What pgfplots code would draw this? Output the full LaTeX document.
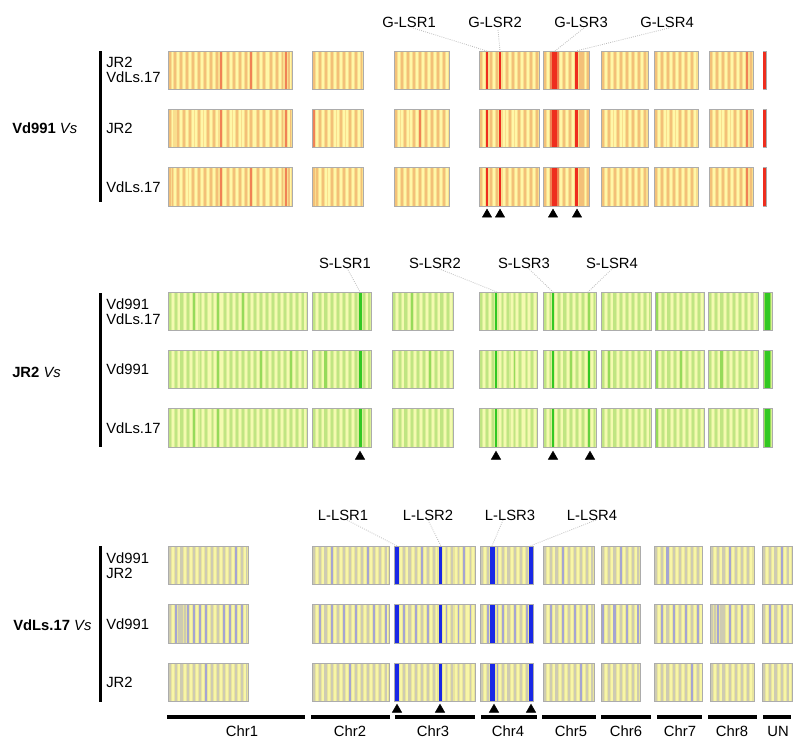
\documentclass[border=0pt]{standalone}
\usepackage{fontspec}
\setmainfont{Liberation Sans}
\usepackage{pgfplots}
\pgfplotsset{compat=1.18}
\usepackage{pgfplotstable}

\definecolor{bord}{RGB}{172,172,172}
\definecolor{baseA}{RGB}{249,222,142}
\definecolor{baseB}{RGB}{218,239,152}
\definecolor{baseC}{RGB}{232,228,158}

% a full-height stripe whose half width is the mark size
\pgfdeclareplotmark{stripe}{%
  \pgfpathrectangle{\pgfqpoint{-\pgfplotmarksize}{-14.06pt}}{\pgfqpoint{2\pgfplotmarksize}{28.12pt}}%
  \pgfusepathqfill}

\pgfplotsset{
  colormap={cmA}{rgb255=(255,247,168) rgb255=(249,222,142) rgb255=(243,192,120) rgb255=(240,130,85) rgb255=(238,45,30)},
  colormap={cmB}{rgb255=(244,250,176) rgb255=(218,239,152) rgb255=(192,229,130) rgb255=(150,218,90) rgb255=(50,200,35)},
  colormap={cmC}{rgb255=(248,246,166) rgb255=(232,228,158) rgb255=(206,203,178) rgb255=(165,165,210) rgb255=(25,40,230)},
  stripe/.style={scatter, only marks, mark=stripe, scatter src=explicit,
    scatter/use mapped color={draw=none, fill=mapped color},
    visualization depends on={0.375*\thisrow{w} \as \hw},
    scatter/@pre marker code/.append style={/tikz/mark size=\hw pt}},
  block/.style={draw=bord, line width=0.75pt, line join=miter},
}

% block outlines: x, t (0 = top edge, 1 = bottom edge)
\pgfplotstableread{
x t
168 0
292 0
292 1
168 1
168 0
nan 0
312 0
363 0
363 1
312 1
312 0
nan 0
394 0
449 0
449 1
394 1
394 0
nan 0
479 0
539 0
539 1
479 1
479 0
nan 0
543 0
589 0
589 1
543 1
543 0
nan 0
601 0
648 0
648 1
601 1
601 0
nan 0
654 0
698 0
698 1
654 1
654 0
nan 0
709 0
753 0
753 1
709 1
709 0
nan 0
763 0
766 0
766 1
763 1
763 0
}\blkA

\pgfplotstableread{
x t
168 0
307 0
307 1
168 1
168 0
nan 0
312 0
371 0
371 1
312 1
312 0
nan 0
392 0
453 0
453 1
392 1
392 0
nan 0
479 0
537 0
537 1
479 1
479 0
nan 0
543 0
596 0
596 1
543 1
543 0
nan 0
601 0
651 0
651 1
601 1
601 0
nan 0
655 0
704 0
704 1
655 1
655 0
nan 0
708 0
758 0
758 1
708 1
708 0
nan 0
763 0
772 0
772 1
763 1
763 0
}\blkB

\pgfplotstableread{
x t
168 0
248 0
248 1
168 1
168 0
nan 0
312 0
389 0
389 1
312 1
312 0
nan 0
394 0
475 0
475 1
394 1
394 0
nan 0
480 0
533 0
533 1
480 1
480 0
nan 0
543 0
594 0
594 1
543 1
543 0
nan 0
601 0
640 0
640 1
601 1
601 0
nan 0
654 0
702 0
702 1
654 1
654 0
nan 0
710 0
754 0
754 1
710 1
710 0
nan 0
762 0
792 0
792 1
762 1
762 0
}\blkC

% stripes: position, width (px), level in rows a, b, c (0 pale, 1 base, 2 dark, 3 strong, 4 LSR)
\pgfplotstableread{
x w a b c
170 2 2 2 2
172.5 1.5 0 0 2
175 2 2 1 0
178 2.5 0 2 2
181 1.5 2 0 0
183.5 2 0 2 2
186.5 2 2 0 0
190 2.5 0 2 0
193 1.5 2 0 2
195.5 2 0 0 0
198.5 2 2 2 2
202 2 0 0 0
205 1.5 2 0 2
207.5 2 0 2 0
211 2.5 2 0 2
214 1.5 0 2 0
217 2 2 0 2
221 2 3 3 3
224.5 2.5 0 0 0
228 1.5 2 2 2
230.5 2 0 0 0
233.5 2 2 0 2
237 2.5 0 2 0
240 1.5 2 0 2
243 2 0 0 0
246 2 2 2 2
248.5 1.5 0 0 0
251 2 3 2 3
254.5 2.5 0 0 0
258 2 2 2 2
261 1.5 0 0 0
264 2 2 2 2
267.5 2.5 0 0 0
271 2 2 2 2
274 1.5 0 0 0
277 2 2 2 2
280 2.5 0 0 0
282.5 1.5 2 2 2
285.5 2 3 3 3
288.5 2 2 0 2
290.5 1.5 0 2 0
314 2 2 3 2
317 2 0 0 2
320 2 2 2 0
323 1.5 0 0 2
326 2 2 2 0
329 2.5 0 0 0
332 2 2 2 2
335 1.5 0 0 0
338 2 2 0 2
341 2 0 2 0
344 2.5 2 0 2
347 2 0 0 0
350 1.5 2 2 2
353 2 0 0 0
356 2 2 2 2
359 2.5 0 0 0
361.5 1.5 2 2 2
396 2 2 2 2
399 2 0 0 0
402 1.5 2 0 2
405 2 0 2 0
408 2.5 2 0 2
411 2 0 0 0
414 1.5 2 2 2
417 2 0 0 0
420 2 2 3 2
423 2.5 0 0 0
426 1.5 2 2 2
429 2 0 0 0
432 2 2 2 2
435 2.5 0 0 0
438 1.5 2 2 2
441 2 0 0 0
444 2 2 2 2
447 1.5 0 0 0
481 2 2 2 2
484 2 0 0 0
487 2.5 4 4 4
490.5 2 2 2 2
494 2 0 0 0
497 1.5 2 2 2
500 2.5 4 4 4
503.5 2 0 0 0
507 2.5 2 0 2
510 1.5 0 2 0
513 2 2 0 2
516 2 0 0 0
519 2.5 2 2 2
522 1.5 0 0 0
525 2 2 2 2
528 2 0 0 0
531 2.5 2 2 2
534 1.5 0 0 0
537 2 2 2 2
545 2 2 2 2
548 2 0 0 0
551 1.5 3 3 3
554.5 5 4 4 4
558 1.5 3 3 3
561 2 0 0 0
564 2.5 2 2 2
567 1.5 0 0 0
570 2 2 2 2
573 2 0 0 0
576 3 4 4 4
579.5 2 2 2 2
582.5 2.5 2 2 2
585.5 1.5 0 0 0
587.5 2 2 2 2
603 2 2 2 2
606 2 0 0 0
609 2.5 2 2 2
612 1.5 0 0 0
615 2 2 0 2
618 2 0 2 0
621 2.5 2 0 2
624 1.5 0 0 0
627 2 2 2 2
630 2 0 0 0
633 2.5 2 2 2
636 1.5 0 0 0
639 2 2 2 2
642 2 0 0 0
645 2.5 2 2 2
656 2 2 2 2
659 2 0 0 0
662 2.5 2 2 2
665 1.5 0 0 0
668 2 2 0 2
671 2 0 2 0
674 2.5 2 0 2
677 1.5 0 0 0
680 2 2 2 2
683 2 0 0 0
686 2.5 2 2 2
689 1.5 0 0 0
692 2 2 2 2
695 2 0 0 0
711 2 2 2 2
714 2 0 0 0
717 2.5 2 2 2
720 1.5 0 0 0
723 2 2 0 2
726 2 0 2 0
729 2.5 2 0 2
732 1.5 0 0 0
735 2 2 2 2
738 2 0 0 0
741 2.5 2 2 2
744 1.5 0 0 0
747 2 3 3 3
750.5 2 2 2 2
764.5 3.5 4 4 4
}\stA

\pgfplotstableread{
x w a b c
170 2 2 2 2
173 2 0 0 0
176 1.5 2 2 2
178.5 2 0 0 0
181.5 2.5 2 2 2
185 2 0 0 0
188 1.5 2 2 2
191 2 0 0 0
194 2 3 2 3
197 2.5 0 0 0
200.5 1.5 2 2 2
203 2 0 0 0
206 2 2 2 2
209.5 2.5 0 0 0
212.5 1.5 2 2 2
215 2 0 0 0
218 2 3 3 3
221.5 2.5 0 0 0
225 1.5 2 2 2
227.5 2 0 0 0
230.5 2 2 2 2
234 2.5 0 0 0
237 1.5 2 2 2
239.5 2 0 0 0
242.5 2 3 2 2
246 2.5 0 0 0
249 1.5 2 2 2
251.5 2 0 0 0
254.5 2 2 2 2
258 2.5 0 0 0
261 1.5 2 3 2
263.5 2 0 0 0
266.5 2 2 2 2
270 2.5 0 0 0
273 1.5 2 2 2
275.5 2 0 0 0
278.5 2 2 2 2
282 2.5 0 0 0
285 1.5 2 2 2
287.5 2 0 0 0
290.5 2 2 3 2
294 2.5 0 0 0
297 1.5 2 2 2
299.5 2 0 0 0
302.5 2 2 2 2
305 1.5 0 0 0
314 2 2 2 2
317 2 0 0 0
320 1.5 2 2 2
322.5 2 0 0 0
325.5 2.5 2 3 2
329 2 0 0 0
332 1.5 2 2 2
334.5 2 0 0 0
337.5 2 2 2 2
341 2.5 0 0 0
344 1.5 2 2 2
346.5 2 0 0 0
349.5 2 2 2 2
353 2 0 0 0
356 1.5 2 2 2
360 3 4 4 4
363.5 2 2 2 2
366.5 2 0 0 0
369 1.5 2 2 2
394 2 2 2 2
397 2 0 0 0
400 1.5 2 2 2
402.5 2 0 0 0
405.5 2.5 2 2 2
409 2 0 0 0
412 1.5 3 2 2
414.5 2 0 0 0
417.5 2 2 2 2
421 2.5 0 0 0
424 1.5 2 2 2
426.5 2 0 0 0
429.5 2 2 3 2
433 2 0 0 0
436 1.5 2 2 2
438.5 2 0 0 0
441.5 2.5 2 2 2
445 2 0 0 0
448 1.5 2 2 2
451 2 0 0 0
481 2 2 2 2
484 2 0 0 0
487 1.5 2 2 2
489.5 2 0 0 0
492.5 2 2 2 2
496 2.5 4 4 4
499.5 2 0 0 0
502.5 1.5 2 2 2
505 2 0 0 0
508 2.5 2 2 2
511.5 2 0 0 0
514.5 1.5 2 3 2
517 2 0 0 0
520 2 2 2 2
523.5 2.5 0 0 0
526.5 1.5 2 2 2
529 2 0 0 0
532 2 2 2 2
535 2 0 0 0
545 2 2 2 2
548 2 0 0 0
550.5 1.5 2 2 2
553 2.5 4 4 4
556 2 0 0 0
559 1.5 2 2 2
561.5 2 0 0 0
564.5 2.5 2 2 2
568 2 0 0 0
571 1.5 2 3 2
573.5 2 0 0 0
576.5 2 2 2 2
580 2.5 0 0 0
583 1.5 2 2 2
585.5 2 0 0 0
589 2 3 4 3.5
592 2 0 0 0
594.5 1.5 2 2 2
603 2 2 2 2
606 2 0 0 0
609 1.5 2 3 2
611.5 2 0 0 0
614.5 2.5 2 2 2
618 2 0 0 0
621 1.5 2 2 2
623.5 2 0 0 0
626.5 2 2 2 2
630 2.5 0 0 0
633 1.5 2 2 2
635.5 2 0 0 0
638.5 2 2 2 2
642 2 0 0 0
645 1.5 2 2 2
647.5 2 0 0 0
649.5 1.5 2 2 2
657 2 3 3 3
660 2 0 0 0
663 1.5 2 2 2
665.5 2 0 0 0
668.5 2.5 2 2 2
672 2 0 0 0
675 1.5 2 2 2
677.5 2 0 0 0
680.5 2 2 3 2
684 2.5 0 0 0
687 1.5 2 2 2
689.5 2 0 0 0
692.5 2 2 2 2
696 2 0 0 0
699 1.5 2 2 2
702 2 0 0 0
710 2 2 2 2
713 2 0 0 0
716 1.5 2 2 2
718.5 2 0 0 0
721.5 2.5 2 3 2
725 2 0 0 0
728 1.5 2 2 2
730.5 2 0 0 0
733.5 2 2 2 2
737 2.5 0 0 0
740 1.5 2 2 2
742.5 2 0 0 0
745.5 2 2 2 2
749 2 0 0 0
752 1.5 2 2 2
755 2 0 0 0
764.5 1.5 3 3 3
767.5 4.5 4 4 4
770.5 1.5 3 3 3
}\stB

\pgfplotstableread{
x w a b c
170 2 2 2 2
173 2 0 0 0
176 1.5 2 3 2
178.5 2 0 2 0
181.5 2.5 2 2 2
185 2 0 2 0
188 1.5 2 3 2
190.5 2 0 0 0
193.5 2 2 3 2
197 2.5 0 0 0
200 1.5 2 3 2
202.5 2 0 0 0
205.5 2 2 3 3
209 2.5 0 0 0
212 1.5 2 2 2
214.5 2 0 0 0
217.5 2 2 2 2
221 2.5 0 0 0
224 1.5 2 3 2
226.5 2 0 0 0
229.5 2 2 3 2
233 2.5 0 0 0
236 1.5 3 3 2
238.5 2 0 0 0
241.5 2 2 3 2
244.5 2 0 0 0
246.5 1.5 2 2 2
314 2 2 2 2
317 2 0 0 0
320 1.5 2 3 2
322.5 2 0 0 0
325.5 2.5 2 2 2
329 2 0 0 0
332 1.5 3 3 2
334.5 2 0 0 0
337.5 2 2 2 2
341 2.5 0 0 0
344 1.5 2 3 2
346.5 2 0 0 0
349.5 2 2 2 3
353 2.5 0 0 0
356 1.5 2 3 2
358.5 2 0 0 0
361.5 2 2 2 2
365 2.5 0 0 0
368 1.5 3 2 2
370.5 2 0 0 0
373.5 2 2 3 2
377 2.5 0 0 0
380 1.5 2 2 2
382.5 2 0 0 0
385.5 2 2 3 2
387.5 1.5 0 0 0
397 4 4 4 4
401 2 0 0 0
404 1.5 2 3 2
406.5 2 0 0 0
409.5 2.5 2 2 2
413 2 0 0 0
416 1.5 2 3 2
418.5 2 0 0 0
421.5 2 3 2 2
425 2.5 0 0 0
428 1.5 2 3 2
430.5 2 0 0 0
433.5 2 2 2 2
436.5 1.5 0 0 0
440 3 4 4 4
443.5 2 0 0 0
446.5 1.5 2 3 2
449 2 0 0 0
452 2.5 2 2 2
455.5 2 0 0 0
458.5 1.5 2 3 2
461 2 0 0 0
464 2 3 2 2
467.5 2.5 0 0 0
470.5 1.5 2 3 2
473 2 0 0 0
482 2 2 2 2
485 2 0 0 0
488 1.5 2 3 2
492.5 5.5 4 4 4
497.5 1.5 3 3 3
500 2 0 0 0
503 1.5 2 3 2
505.5 2 0 0 0
508.5 2.5 2 2 2
512 2 0 0 0
515 1.5 2 3 2
517.5 2 0 0 0
520.5 2 2 2 2
524 2.5 0 0 0
527 1.5 2 3 2
530.8 4 4 4 4
545 2 2 2 2
548 2 0 0 0
551 1.5 2 3 2
553.5 2 0 0 0
556.5 2.5 2 2 2
560 2 0 0 0
563 1.5 3 3 2
565.5 2 0 0 0
568.5 2 2 2 2
572 2.5 0 0 0
575 1.5 2 3 2
577.5 2 0 0 0
580.5 2 2 2 3
584 2.5 0 0 0
587 1.5 2 3 2
589.5 2 0 0 0
592 1.5 2 2 2
603 2 2 3 2
606 2 0 0 0
609 1.5 2 2 2
611.5 2 0 0 0
614.5 2.5 2 3 2
618 2 0 0 0
621 1.5 3 2 2
623.5 2 0 0 0
626.5 2 2 3 2
630 2.5 0 0 0
633 1.5 2 2 2
635.5 2 0 0 0
638 1.5 2 3 2
656 2 2 2 2
659 2 0 0 0
662 1.5 2 3 2
664.5 2 0 0 0
667.5 2.5 3 2 2
671 2 0 0 0
674 1.5 2 3 2
676.5 2 0 0 0
679.5 2 2 2 2
683 2.5 0 0 0
686 1.5 2 3 2
688.5 2 0 0 0
691.5 2 2 2 3
695 2.5 0 0 0
698 1.5 2 3 2
700.5 2 0 0 0
712 2 2 2 2
715 2 0 2 0
718 1.5 2 3 2
720.5 2 0 2 0
723.5 2.5 2 2 2
727 2 0 0 0
730 1.5 3 3 2
732.5 2 0 0 0
735.5 2 2 2 2
739 2.5 0 0 0
742 1.5 2 3 2
744.5 2 0 0 0
747.5 2 2 2 2
751 2 0 0 0
764 2 2 2 2
767 2 0 0 0
770 1.5 2 3 2
772.5 2 0 0 0
775.5 2.5 2 2 2
779 2 0 0 0
782 1.5 3 3 2
784.5 2 0 0 0
787.5 2 2 2 2
790 1.5 0 0 0
}\stC

\begin{document}
\begin{tikzpicture}[font=\fontsize{11.1}{11.3}\selectfont]
\begin{axis}[
  scale only axis, width=600pt, height=557.25pt,
  xmin=0, xmax=800, ymin=0, ymax=743, y dir=reverse,
  hide axis, clip=false,
  point meta min=0, point meta max=4,
  unbounded coords=jump,
]
% ---- Vd991 panel
\pgfplotsinvokeforeach{51,109,167.5}{
  \addplot[block, fill=baseA] table[x=x, y expr=#1+38.5*\thisrow{t}] \blkA;
}
\addplot[stripe, colormap name=cmA] table[x=x, y expr=70.25, meta=a] \stA;
\addplot[stripe, colormap name=cmA] table[x=x, y expr=128.25, meta=b] \stA;
\addplot[stripe, colormap name=cmA] table[x=x, y expr=186.75, meta=c] \stA;
% ---- JR2 panel
\pgfplotsinvokeforeach{292,350,408.5}{
  \addplot[block, fill=baseB] table[x=x, y expr=#1+38.5*\thisrow{t}] \blkB;
}
\addplot[stripe, colormap name=cmB] table[x=x, y expr=311.25, meta=a] \stB;
\addplot[stripe, colormap name=cmB] table[x=x, y expr=369.25, meta=b] \stB;
\addplot[stripe, colormap name=cmB] table[x=x, y expr=427.75, meta=c] \stB;
% ---- VdLs.17 panel
\pgfplotsinvokeforeach{546,604.5,663}{
  \addplot[block, fill=baseC] table[x=x, y expr=#1+38.5*\thisrow{t}] \blkC;
}
\addplot[stripe, colormap name=cmC] table[x=x, y expr=565.25, meta=a] \stC;
\addplot[stripe, colormap name=cmC] table[x=x, y expr=623.75, meta=b] \stC;
\addplot[stripe, colormap name=cmC] table[x=x, y expr=682.25, meta=c] \stC;

% leader lines to the LSRs
\addplot[gray!55, densely dotted, line width=0.6pt] coordinates {
  (413,28) (487,51) (nan,nan) (498,30) (500,51) (nan,nan)
  (584,28) (555,51) (nan,nan) (669,28) (576,51) (nan,nan)
  (347,268) (360,292) (nan,nan) (437,268) (497,292) (nan,nan)
  (528,268) (553,292) (nan,nan) (613,268) (588,292) (nan,nan)
  (347,520) (397,546) (nan,nan) (428,520) (441,546) (nan,nan)
  (503,520) (492,546) (nan,nan) (596,520) (530,546)};
% LSR markers
\addplot[only marks, mark=triangle*, mark size=4pt, black] coordinates {
  (487,214.5) (500,214.5) (553,214.5) (577,214.5)
  (360,456.6) (496,456.6) (553,456.6) (590,456.6)
  (397,709.6) (440,709.6) (494,709.6) (531,709.6)};
% brackets at the left
\addplot[black, line width=2.25pt] coordinates {
  (100,51) (100,202) (nan,nan) (100,293) (100,447) (nan,nan) (100,546) (100,702)};
% chromosome bars
\addplot[black, line width=3pt] coordinates {
  (167,717) (305,717) (nan,nan) (311,717) (390,717) (nan,nan)
  (395,717) (475,717) (nan,nan) (481,717) (537,717) (nan,nan)
  (542,717) (596,717) (nan,nan) (601,717) (651,717) (nan,nan)
  (657,717) (702,717) (nan,nan) (708,717) (757,717) (nan,nan)
  (763,717) (791,717)};

% texts
\node[anchor=west, inner sep=0pt] at (12,128) {\textbf{Vd991} \textit{Vs}};
\node[anchor=west, inner sep=0pt] at (12,372) {\textbf{JR2} \textit{Vs}};
\node[anchor=west, inner sep=0pt] at (13,625) {\textbf{VdLs.17} \textit{Vs}};

\node[anchor=west, inner sep=0pt, align=left] at (106,70.25) {JR2\\VdLs.17};
\node[anchor=west, inner sep=0pt] at (106,128.25) {JR2};
\node[anchor=west, inner sep=0pt] at (106,186.75) {VdLs.17};
\node[anchor=west, inner sep=0pt, align=left] at (106,311.25) {Vd991\\VdLs.17};
\node[anchor=west, inner sep=0pt] at (106,369.25) {Vd991};
\node[anchor=west, inner sep=0pt] at (106,427.75) {VdLs.17};
\node[anchor=west, inner sep=0pt, align=left] at (106,565.25) {Vd991\\JR2};
\node[anchor=west, inner sep=0pt] at (106,623.75) {Vd991};
\node[anchor=west, inner sep=0pt] at (106,682.25) {JR2};

\node at (409,22) {G-LSR1};
\node at (495,22) {G-LSR2};
\node at (581,22) {G-LSR3};
\node at (667,22) {G-LSR4};
\node at (345,263) {S-LSR1};
\node at (435,263) {S-LSR2};
\node at (524,263) {S-LSR3};
\node at (612,263) {S-LSR4};
\node at (343,515) {L-LSR1};
\node at (428,515) {L-LSR2};
\node at (510,515) {L-LSR3};
\node at (592,515) {L-LSR4};

\node at (242,731) {Chr1};
\node at (350,731) {Chr2};
\node at (433,731) {Chr3};
\node at (508,731) {Chr4};
\node at (571,731) {Chr5};
\node at (626,731) {Chr6};
\node at (680,731) {Chr7};
\node at (732,731) {Chr8};
\node at (778,731) {UN};
\end{axis}
\pgfresetboundingbox
\path (current axis.south west) rectangle (current axis.north east);
\end{tikzpicture}
\end{document}
